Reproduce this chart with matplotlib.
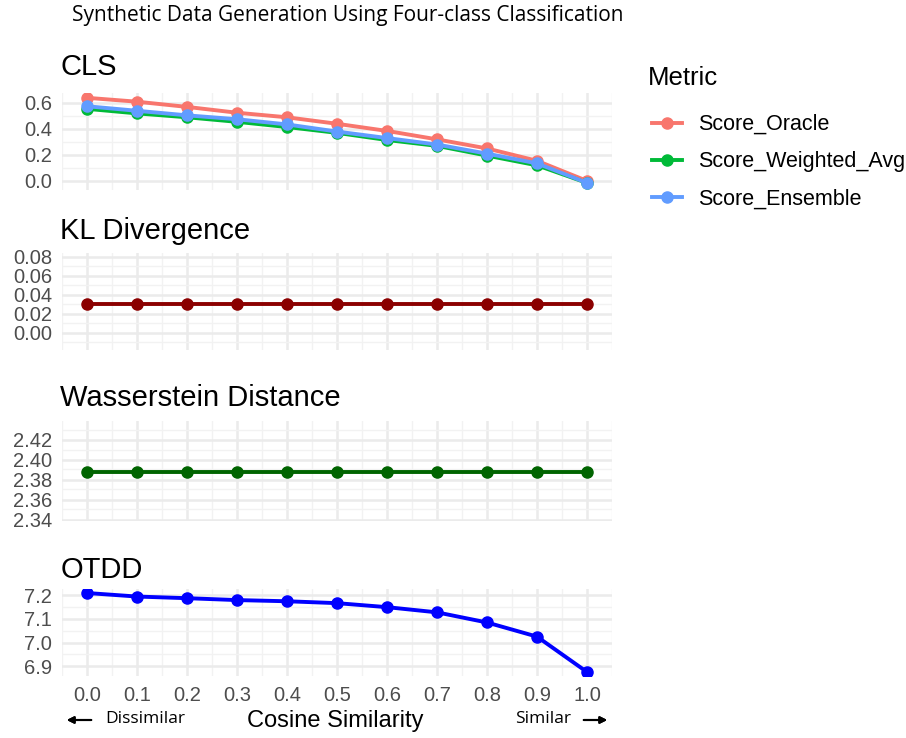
import matplotlib
matplotlib.use('Agg')
import matplotlib.pyplot as plt
from matplotlib.ticker import MultipleLocator
from matplotlib.lines import Line2D

plt.rcParams['font.family'] = ['Liberation Sans', 'DejaVu Sans']

cosine = [0.0, 0.1, 0.2, 0.3, 0.4, 0.5, 0.6, 0.7, 0.8, 0.9, 1.0]
cosine_labels = ['0.0', '0.1', '0.2', '0.3', '0.4', '0.5', '0.6', '0.7', '0.8', '0.9', '1.0']

score_oracle = [0.64, 0.61, 0.57, 0.525, 0.49, 0.44, 0.385, 0.32, 0.25, 0.155, 0.0]
score_weighted_avg = [0.555, 0.52, 0.49, 0.455, 0.415, 0.37, 0.315, 0.27, 0.195, 0.12, -0.015]
score_ensemble = [0.575, 0.54, 0.505, 0.475, 0.435, 0.38, 0.33, 0.28, 0.21, 0.135, -0.015]
kl_divergence = [0.03] * 11
wasserstein = [2.388] * 11
otdd = [7.21, 7.195, 7.188, 7.18, 7.175, 7.167, 7.15, 7.128, 7.085, 7.025, 6.875]

W, H = 906, 738
fig = plt.figure(figsize=(W / 100, H / 100), dpi=100)

def panel(top, bottom):
    x0, x1 = 62, 612
    return fig.add_axes([x0 / W, 1 - bottom / H, (x1 - x0) / W, (bottom - top) / H])

def style(ax, title, major, minor, ylim, fmt, pad, show_x=False):
    ax.set_xlim(-0.05, 1.05)
    ax.set_ylim(*ylim)
    ax.xaxis.set_major_locator(MultipleLocator(0.1))
    ax.xaxis.set_minor_locator(MultipleLocator(0.05))
    ax.yaxis.set_major_locator(MultipleLocator(major))
    ax.yaxis.set_minor_locator(MultipleLocator(minor))
    ax.grid(which='major', color='#EBEBEB', linewidth=1.8)
    ax.grid(which='minor', color='#F2F2F2', linewidth=1.0)
    ax.set_axisbelow(True)
    for s in ax.spines.values():
        s.set_visible(False)
    ax.tick_params(which='both', length=0, labelsize=14.5, labelcolor='#4D4D4D')
    ax.tick_params(axis='y', pad=7)
    ax.yaxis.set_major_formatter(fmt)
    if show_x:
        ax.set_xticks(cosine)
        ax.set_xticklabels(cosine_labels)
        ax.tick_params(axis='x', pad=7)
    else:
        ax.tick_params(axis='x', labelbottom=False)
    ax.set_title(title, loc='left', fontsize=21, pad=pad, x=-0.003)

lw, ms = 2.8, 8

ax1 = panel(93, 190)
ax1.plot(cosine, score_oracle, '-o', color='#F8766D', lw=lw, ms=ms)
ax1.plot(cosine, score_weighted_avg, '-o', color='#00BA38', lw=lw, ms=ms)
ax1.plot(cosine, score_ensemble, '-o', color='#619CFF', lw=lw, ms=ms)
style(ax1, 'CLS', 0.2, 0.1, (-0.07, 0.677), '{x:.1f}', pad=13)

ax2 = panel(253, 350)
ax2.plot(cosine, kl_divergence, '-o', color='#8B0000', lw=lw, ms=ms)
style(ax2, 'KL Divergence', 0.02, 0.01, (-0.018, 0.084), '{x:.2f}', pad=10)

ax3 = panel(421, 521)
ax3.plot(cosine, wasserstein, '-o', color='#006400', lw=lw, ms=ms)
style(ax3, 'Wasserstein Distance', 0.02, 0.01, (2.3385, 2.4385), '{x:.2f}', pad=11)

ax4 = panel(589, 676)
ax4.plot(cosine, otdd, '-o', color='#0000FF', lw=lw, ms=ms)
style(ax4, 'OTDD', 0.1, 0.05, (6.858, 7.227), '{x:.1f}', pad=8, show_x=True)

# x axis label with direction hints
hint_font = ['Open Sans', 'DejaVu Sans']
fig.text(335 / W, 1 - 721 / H, 'Cosine Similarity', fontsize=17, ha='center', va='center')
fig.text(105 / W, 1 - 719 / H, 'Dissimilar', fontsize=12.5, family=hint_font, ha='left', va='center')
fig.text(571 / W, 1 - 719 / H, 'Similar', fontsize=12.5, family=hint_font, ha='right', va='center')
arrow = dict(arrowstyle='-|>', color='black', lw=1.5, mutation_scale=10)
fig.add_artist(plt.annotate('', xy=(64 / W, 1 - 720 / H), xytext=(94 / W, 1 - 720 / H),
                            xycoords='figure fraction', arrowprops=arrow))
fig.add_artist(plt.annotate('', xy=(610 / W, 1 - 720 / H), xytext=(581 / W, 1 - 720 / H),
                            xycoords='figure fraction', arrowprops=arrow))

# legend: title placed as its own text so the gap to the entries can be set
fig.text(648 / W, 1 - 78 / H, 'Metric', fontsize=18.5, ha='left', va='center')
handles = [Line2D([], [], color=c, lw=lw, marker='o', ms=ms)
           for c in ['#F8766D', '#00BA38', '#619CFF']]
leg = fig.legend(handles, ['Score_Oracle', 'Score_Weighted_Avg', 'Score_Ensemble'],
                 loc='upper left', bbox_to_anchor=(637 / W, 1 - 99 / H),
                 frameon=False, fontsize=15.5, handlelength=1.4,
                 labelspacing=0.76, handletextpad=0.75, borderpad=0.2)

fig.text(72 / W, 1 - 15 / H, 'Synthetic Data Generation Using Four-class Classification',
         fontsize=15, family=['Open Sans', 'DejaVu Sans'], ha='left', va='center')

fig.savefig('out.png', dpi=100, facecolor='white')
